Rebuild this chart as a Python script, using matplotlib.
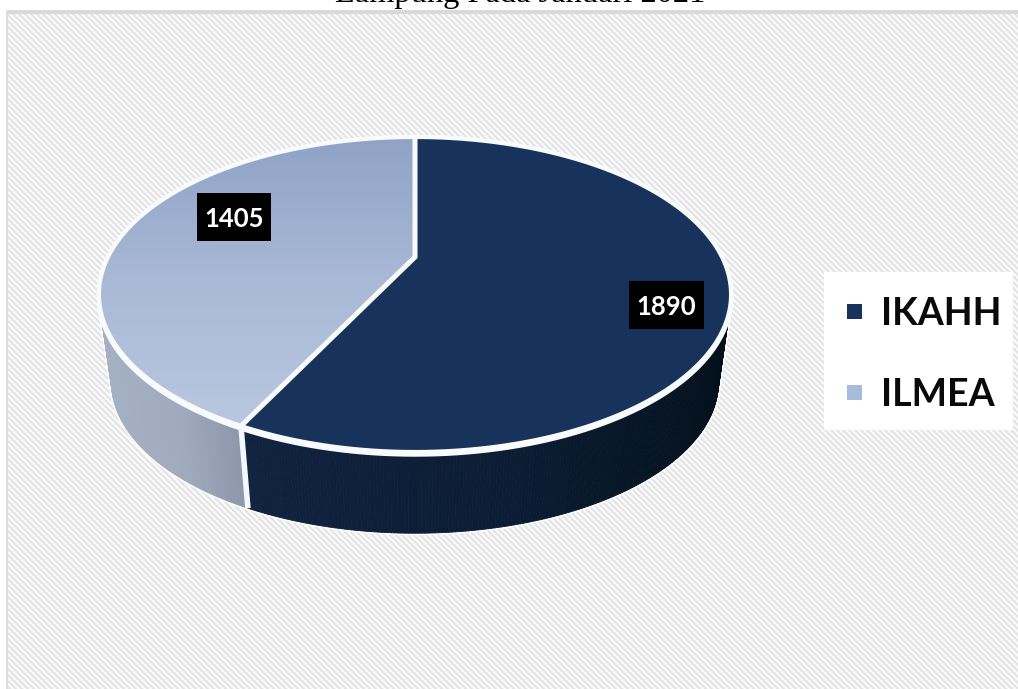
import numpy as np
import matplotlib
matplotlib.use("Agg")
import matplotlib.pyplot as plt
from matplotlib.collections import PolyCollection
from matplotlib.colors import LinearSegmentedColormap, to_rgb
from matplotlib.patches import Polygon, Rectangle

categories = ["IKAHH", "ILMEA"]
values = [1890, 1405]
title_text = "Lampung Pada Januari 2021"

top_colors = ["#17335b", "#a6b6d3"]
W, H = 1018, 689

fig = plt.figure(figsize=(W / 100, H / 100), dpi=100, facecolor="white")
ax = fig.add_axes([0, 0, 1, 1])
ax.set_xlim(0, W)
ax.set_ylim(H, 0)
ax.axis("off")

# hatched backdrop
yy, xx = np.mgrid[0:H - 10, 0:W - 6]
stripe = 0.935 + 0.055 * np.cos(2 * np.pi * (xx - yy) / 6.0)
ax.imshow(stripe, cmap="gray", vmin=0, vmax=1, extent=(6, W, H, 10),
          aspect="auto", interpolation="bilinear", zorder=0)
ax.add_patch(Rectangle((6, 10), W - 6, 3.5, fc="#d9d9d9", ec="none", zorder=1))
ax.add_patch(Rectangle((6, 10), 2.5, H - 10, fc="#dcdcdc", ec="none", zorder=1))
ax.set_xlim(0, W)
ax.set_ylim(H, 0)

# perspective disc projection
CX, CY = 415.0, 257.0
A, B, K = 307.0, 148.6, -0.238
DEPTH, SHRINK = 89.0, 0.96


def project(theta, lower=False):
    u, v = np.sin(theta), -np.cos(theta)
    d = 1 + K * v
    s = SHRINK if lower else 1.0
    return CX + s * A * u / d, CY + (DEPTH if lower else 0.0) + s * B * v / d


fractions = np.array(values) / sum(values)
edges = np.concatenate([[0], np.cumsum(fractions)]) * 2 * np.pi

side_stops = [[(245, "#10233f"), (520, "#0b1c33"), (725, "#04111d")],
              [(105, "#a4b0c4"), (180, "#a0aabd"), (243, "#8c96aa")]]


def side_color(x, stops):
    xs = [p[0] for p in stops]
    rgb = np.array([to_rgb(p[1]) for p in stops])
    return [np.interp(x, xs, rgb[:, i]) for i in range(3)]


# side walls, back to front
quads, colors = [], []
for i in range(2):
    th = np.arange(edges[i], edges[i + 1] + 1e-6, np.radians(0.5))
    th = np.append(th, edges[i + 1])
    for a, b in zip(th[:-1], th[1:]):
        xa, ya = project(a)
        xb, yb = project(b)
        xc, yc = project(b, True)
        xd, yd = project(a, True)
        quads.append([(xa, ya), (xb, yb), (xc, yc), (xd, yd)])
        colors.append(side_color((xa + xb) / 2, side_stops[i]))
order = np.argsort([np.mean([p[1] for p in q]) for q in quads])
quads = [quads[j] for j in order]
colors = [colors[j] for j in order]
ax.add_collection(PolyCollection(quads, facecolors="#fbfbfb", edgecolors="#fbfbfb",
                                 linewidths=3.0, zorder=2))
ax.add_collection(PolyCollection(quads, facecolors=colors, edgecolors=colors,
                                 linewidths=0.6, zorder=3))

# white seam between the walls
sx0, sy0 = project(edges[1])
sx1, sy1 = project(edges[1], True)
ax.plot([sx0, sx1], [sy0, sy1], color="#f4f7fb", lw=4.0, solid_capstyle="butt", zorder=4)

# top faces
full = np.linspace(0, 2 * np.pi, 721)
rx, ry = project(full)
ax.fill(rx, ry + 2.5, color="#f8fafc", lw=0, zorder=5)
ax.plot(rx, ry + 2.5, color="#f8fafc", lw=3.2, zorder=5)

polys = []
for i in range(2):
    th = np.linspace(edges[i], edges[i + 1], 400)
    px, py = project(th)
    polys.append(np.column_stack([np.r_[CX, px], np.r_[CY, py]]))

ax.add_patch(Polygon(polys[0], closed=True, fc=top_colors[0], ec="none", zorder=6))

light = LinearSegmentedColormap.from_list("lt", ["#8fa3c6", "#a9b9d6", "#b9c7df"])
grad = np.linspace(0, 1, 256).reshape(-1, 1)
im = ax.imshow(grad, cmap=light, extent=(90, 420, 425, 137), aspect="auto", zorder=6)
im.set_clip_path(Polygon(polys[1], closed=True, transform=ax.transData))
ax.set_xlim(0, W)
ax.set_ylim(H, 0)

# white spokes
ex, ey = project(edges[1])
tx, ty = project(edges[0])
ax.plot([tx, CX, ex], [ty, CY, ey], color="#f8fafc", lw=3.6,
        solid_joinstyle="miter", solid_capstyle="butt", zorder=7)
ax.plot(rx, ry, color="#f8fafc", lw=3.0, zorder=7)

# data labels
label_boxes = [(629, 281, 75, 48), (197, 193, 74, 48)]
for val, (bx, by, bw, bh) in zip(values, label_boxes):
    ax.add_patch(Rectangle((bx, by), bw, bh, fc="black", ec="none", zorder=8))
    ax.text(bx + bw / 2, by + bh / 2, str(val), color="white", fontsize=18.5, family="Lato",
            fontweight="bold", ha="center", va="center_baseline", zorder=9)

# legend
ax.add_patch(Rectangle((824, 272), 189, 158, fc="white", ec="none", zorder=8))
legend_y = [311, 392]
legend_marker = [top_colors[0], "#a6bcdc"]
for name, ly, c in zip(categories, legend_y, legend_marker):
    ax.add_patch(Rectangle((847, ly - 7.5), 15, 15, fc=c, ec="none", zorder=9))
    ax.text(881, ly, name, color="#0a0a0a", fontsize=27, family="Lato", fontweight="bold",
            ha="left", va="center_baseline", zorder=9)

# cropped title
ax.text(520, 2, title_text, color="black", fontsize=23.4, family="Liberation Serif",
        ha="center", va="baseline", zorder=10, clip_on=False)

fig.savefig("out.png", dpi=100, facecolor="white")
